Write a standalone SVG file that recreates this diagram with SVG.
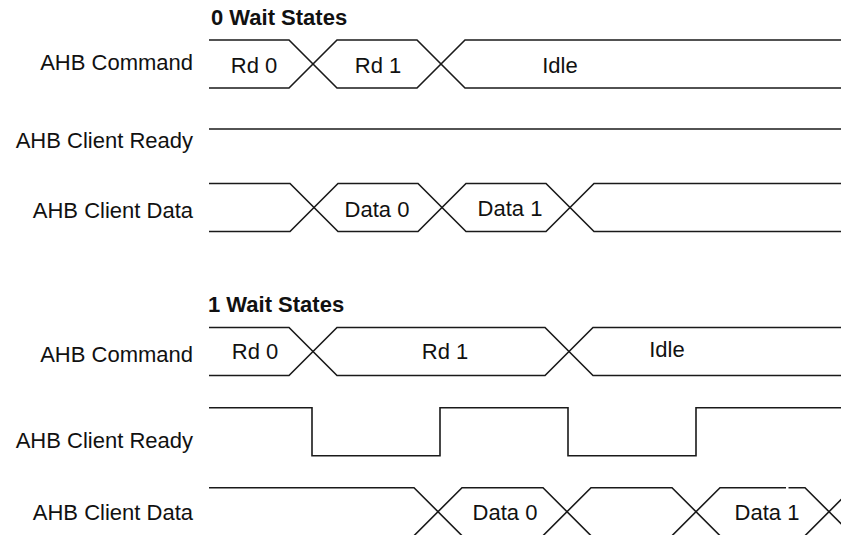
<svg xmlns="http://www.w3.org/2000/svg" width="841" height="535" viewBox="0 0 841 535">
<style>
.sig{fill:none;stroke:#1a1a1a;stroke-width:1.6;stroke-linejoin:miter}
.lbl{font-family:"Liberation Sans",Arial,sans-serif;font-size:22px;fill:#111;text-anchor:end}
.val{font-family:"Liberation Sans",Arial,sans-serif;font-size:22px;fill:#111;text-anchor:middle}
.ttl{font-family:"Liberation Sans",Arial,sans-serif;font-size:22px;font-weight:bold;fill:#111}
</style>
<rect width="841" height="535" fill="#fff"/>

<g id="wait0">
  <text class="ttl" x="211" y="25">0 Wait States</text>
  <g id="w0-command">
    <text class="lbl" x="193" y="69.5">AHB Command</text>
    <path class="sig" d="M209,40 H289 L337,88 H417 L465,40 H841"/>
    <path class="sig" d="M209,88 H289 L337,40 H417 L465,88 H841"/>
    <text class="val" x="254" y="72.5">Rd 0</text>
    <text class="val" x="378" y="72.5">Rd 1</text>
    <text class="val" x="560" y="72.5">Idle</text>
  </g>
  <g id="w0-ready">
    <text class="lbl" x="193" y="148">AHB Client Ready</text>
    <path class="sig" d="M209,129 H841"/>
  </g>
  <g id="w0-data">
    <text class="lbl" x="193" y="217.5">AHB Client Data</text>
    <path class="sig" d="M209,183.5 H290 L338,231.5 H418 L466,183.5 H546 L594,231.5 H841"/>
    <path class="sig" d="M209,231.5 H290 L338,183.5 H418 L466,231.5 H546 L594,183.5 H841"/>
    <text class="val" x="377" y="217">Data 0</text>
    <text class="val" x="510" y="215.5">Data 1</text>
  </g>
</g>

<g id="wait1">
  <text class="ttl" x="208" y="312">1 Wait States</text>
  <g id="w1-command">
    <text class="lbl" x="193" y="361.5">AHB Command</text>
    <path class="sig" d="M209,327.5 H289 L337,375.5 H545 L593,327.5 H841"/>
    <path class="sig" d="M209,375.5 H289 L337,327.5 H545 L593,375.5 H841"/>
    <text class="val" x="255" y="358.5">Rd 0</text>
    <text class="val" x="445" y="358.5">Rd 1</text>
    <text class="val" x="667" y="357">Idle</text>
  </g>
  <g id="w1-ready">
    <text class="lbl" x="193" y="448">AHB Client Ready</text>
    <path class="sig" d="M209,407.7 H312 V455.7 H440 V407.7 H568 V455.7 H696 V407.7 H841"/>
  </g>
  <g id="w1-data">
    <text class="lbl" x="193" y="520">AHB Client Data</text>
    <path class="sig" d="M209,487.7 H414 L462,535.7 H543 L591,487.7 H672 L720,535.7 H805 L853,487.7"/>
    <path class="sig" d="M209,535.7 H414 L462,487.7 H543 L591,535.7 H672 L720,487.7 H786 M788.5,487.7 H805 L853,535.7"/>
    <text class="val" x="505" y="520">Data 0</text>
    <text class="val" x="767" y="520">Data 1</text>
  </g>
</g>
</svg>
